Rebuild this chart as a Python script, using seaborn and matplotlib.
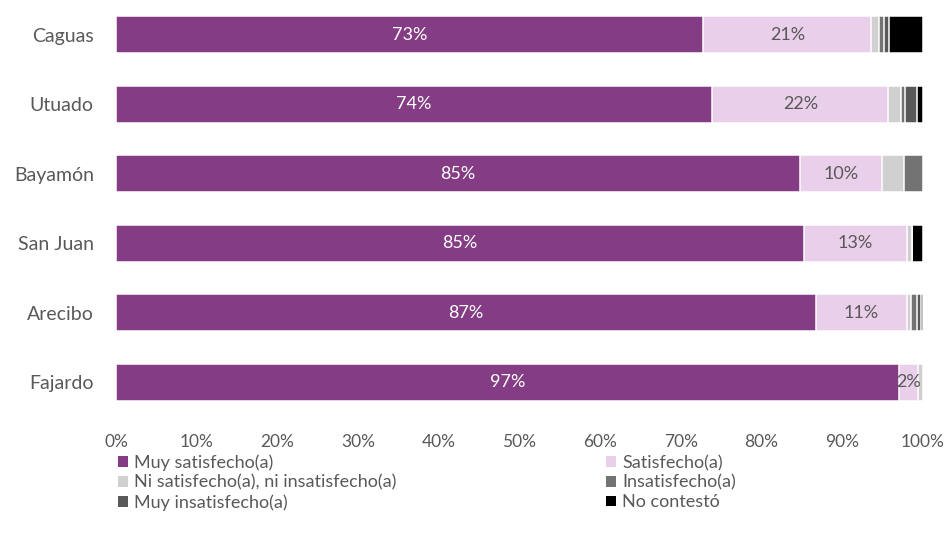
import numpy as np
import pandas as pd
import matplotlib
matplotlib.use("Agg")
import matplotlib.pyplot as plt
from matplotlib.patches import Patch
from matplotlib.ticker import PercentFormatter
import seaborn as sns

# --- Datos ---
regiones = ["Caguas", "Utuado", "Bayamón", "San Juan", "Arecibo", "Fajardo"]
categorias = ["Muy satisfecho(a)", "Satisfecho(a)",
              "Ni satisfecho(a), ni insatisfecho(a)", "Insatisfecho(a)",
              "Muy insatisfecho(a)", "No contestó"]
muy_satisfecho = [72.8, 73.9, 84.7, 85.2, 86.7, 97.0]
satisfecho = [20.8, 21.8, 10.2, 12.8, 11.3, 2.4]
ni_ni = [1.0, 1.6, 2.8, 0.6, 0.5, 0.6]
insatisfecho = [0.6, 0.5, 2.3, 0.0, 0.8, 0.0]
muy_insatisfecho = [0.6, 1.5, 0.0, 0.0, 0.4, 0.0]
no_contesto = [4.2, 0.7, 0.0, 1.4, 0.3, 0.0]
ticks_x = [0, 10, 20, 30, 40, 50, 60, 70, 80, 90, 100]

colores = ["#843C84", "#E9CFE9", "#D0D0D0", "#737373", "#595959", "#000000"]
texto = "#595959"

series = [muy_satisfecho, satisfecho, ni_ni, insatisfecho, muy_insatisfecho, no_contesto]
df = pd.DataFrame(dict(zip(categorias, series)), index=regiones)
acumulado = df.cumsum(axis=1)

sns.set_theme(style="white")
plt.rcParams["font.family"] = ["Lato", "DejaVu Sans"]

fig = plt.figure(figsize=(9.5, 5.37), dpi=100)
ax = fig.add_axes([116 / 950, 1 - 417 / 537, 807 / 950, 417 / 537])

# barras apiladas: se dibuja el acumulado de mayor a menor
for cat, color in reversed(list(zip(categorias, colores))):
    sns.barplot(x=acumulado[cat].values, y=regiones, color=color, orient="h",
                width=0.53, edgecolor="white", linewidth=1.1, saturation=1,
                ax=ax)

# etiquetas de datos (solo las dos primeras categorías)
for i, reg in enumerate(regiones):
    v1 = df.loc[reg, categorias[0]]
    v2 = df.loc[reg, categorias[1]]
    ax.text(v1 / 2, i, f"{v1:.0f}%", ha="center", va="center",
            color="white", fontsize=13)
    ax.text(v1 + v2 / 2, i, f"{v2:.0f}%", ha="center", va="center",
            color=texto, fontsize=13)

ax.set_xlim(0, 100)
ax.set_xticks(ticks_x)
ax.xaxis.set_major_formatter(PercentFormatter(decimals=0))
ax.tick_params(axis="x", length=0, pad=12, labelsize=12.5, labelcolor=texto)
ax.tick_params(axis="y", length=0, pad=16, labelsize=14, labelcolor=texto)
ax.set_xlabel("")
ax.set_ylabel("")
sns.despine(ax=ax, left=True, bottom=True)

# leyenda en dos columnas (orden por filas)
handles = [Patch(facecolor=c, edgecolor="none") for c in colores]
orden = [0, 2, 4, 1, 3, 5]
ax.legend([handles[k] for k in orden], [categorias[k] for k in orden],
          ncol=2, loc="upper left", bbox_to_anchor=(0.002, -0.09),
          frameon=False, fontsize=13, labelcolor=texto,
          handlelength=0.55, handleheight=0.55, handletextpad=0.35,
          columnspacing=11.6, labelspacing=0.2, borderaxespad=0,
          borderpad=0)

fig.savefig("out.png", dpi=100)
